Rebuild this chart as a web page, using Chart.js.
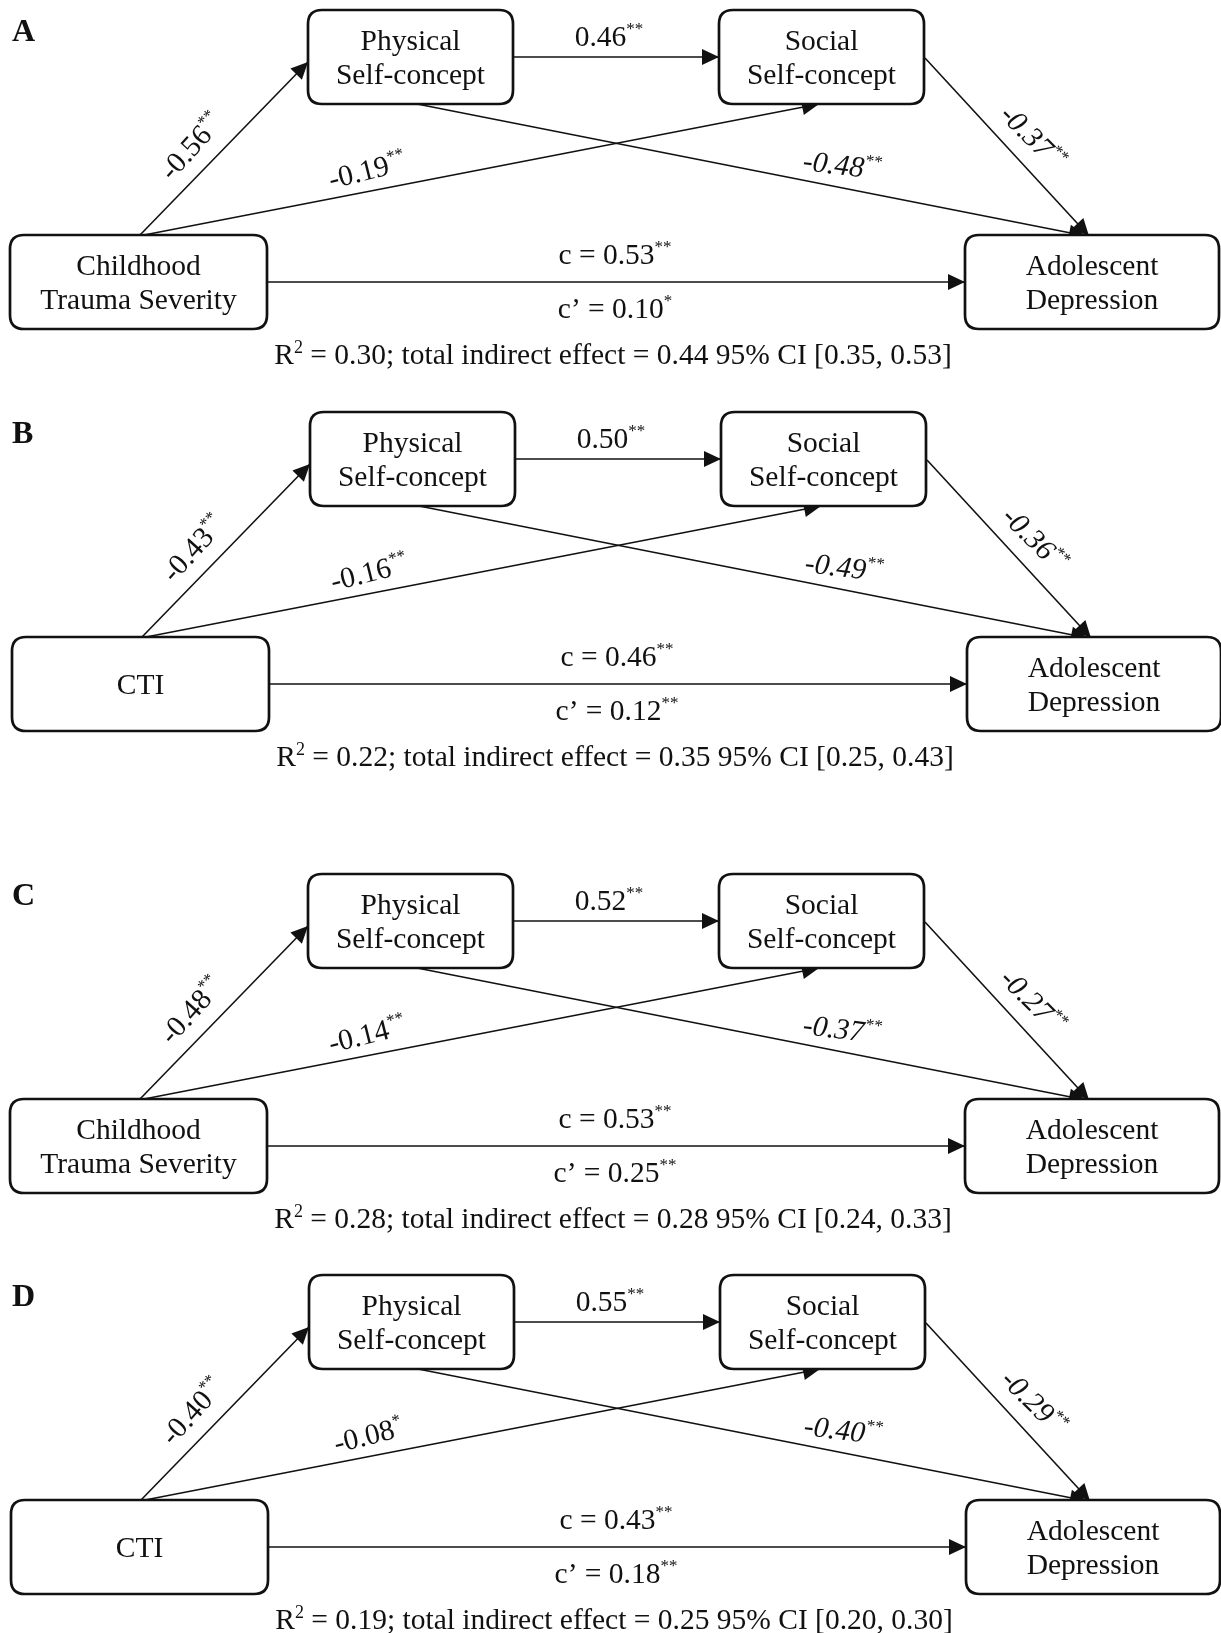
<!DOCTYPE html>
<html>
<head>
<meta charset="utf-8">
<script src="https://cdn.jsdelivr.net/npm/chart.js@4.4.1/dist/chart.umd.min.js"></script>
<style>
  html, body { margin: 0; padding: 0; background: #fff; }
  #wrap { width: 1221px; height: 1633px; }
</style>
</head>
<body>
<div id="wrap"><canvas id="paths" width="1221" height="1633"></canvas></div>
<script>
// one entry per panel, A to D
const panelLabels = ['A', 'B', 'C', 'D'];
const predictorNames = [['Childhood', 'Trauma Severity'], ['CTI'], ['Childhood', 'Trauma Severity'], ['CTI']];
const xToPhysical = [-0.56, -0.43, -0.48, -0.40];
const xToPhysicalSig = ['**', '**', '**', '**'];
const physicalToSocial = [0.46, 0.50, 0.52, 0.55];
const physicalToSocialSig = ['**', '**', '**', '**'];
const xToSocial = [-0.19, -0.16, -0.14, -0.08];
const xToSocialSig = ['**', '**', '**', '*'];
const physicalToDep = [-0.48, -0.49, -0.37, -0.40];
const physicalToDepSig = ['**', '**', '**', '**'];
const socialToDep = [-0.37, -0.36, -0.27, -0.29];
const socialToDepSig = ['**', '**', '**', '**'];
const totalEffect = [0.53, 0.46, 0.53, 0.43];
const totalSig = ['**', '**', '**', '**'];
const directEffect = [0.10, 0.12, 0.25, 0.18];
const directSig = ['*', '**', '**', '**'];
const rSquared = [0.30, 0.22, 0.28, 0.19];
const indirectEffect = [0.44, 0.35, 0.28, 0.25];
const ciLower = [0.35, 0.25, 0.24, 0.20];
const ciUpper = [0.53, 0.43, 0.33, 0.30];

// layout (pixels inside one panel)
const panelTop = [0, 402, 864, 1265];
const panelShift = [0, 2, 0, 1];
const boxes = {
    physical: { x0: 308, x1: 513, y0: 10, y1: 104 },
    social: { x0: 719, x1: 924, y0: 10, y1: 104 },
    predictor: { x0: 10, x1: 267, y0: 235, y1: 329 },
    outcome: { x0: 965, x1: 1219, y0: 235, y1: 329 }
};
const edges = [
    [140, 235, 308, 62],
    [144, 235, 819, 104],
    [513, 57, 719, 57],
    [417, 104, 1086, 236],
    [925, 58, 1089, 236],
    [267, 282, 965, 282]
];

const FONT = '"Liberation Serif", "Times New Roman", serif';
const TXT = 29.5;
const fmt = v => v.toFixed(2);

const datasets = [];
panelLabels.forEach((_, p) => {
    edges.forEach(e => {
        datasets.push({
            data: [
                { x: e[0] + panelShift[p], y: e[1] + panelTop[p] },
                { x: e[2] + panelShift[p], y: e[3] + panelTop[p] }
            ],
            showLine: true,
            borderColor: '#111',
            borderWidth: 1.6,
            pointRadius: 0,
            fill: false
        });
    });
});

function roundBox(ctx, x0, y0, x1, y1, r) {
    ctx.beginPath();
    ctx.moveTo(x0 + r, y0);
    ctx.lineTo(x1 - r, y0);
    ctx.quadraticCurveTo(x1, y0, x1, y0 + r);
    ctx.lineTo(x1, y1 - r);
    ctx.quadraticCurveTo(x1, y1, x1 - r, y1);
    ctx.lineTo(x0 + r, y1);
    ctx.quadraticCurveTo(x0, y1, x0, y1 - r);
    ctx.lineTo(x0, y0 + r);
    ctx.quadraticCurveTo(x0, y0, x0 + r, y0);
    ctx.closePath();
}

// runs: [{t, size, italic, bold, rise}]
function richText(ctx, runs, cx, cy, angle) {
    const fontOf = r => (r.italic ? 'italic ' : '') + (r.bold ? 'bold ' : '') + r.size + 'px ' + FONT;
    let total = 0;
    runs.forEach(r => { ctx.font = fontOf(r); r.w = ctx.measureText(r.t).width; total += r.w; });
    ctx.save();
    ctx.translate(cx, cy);
    ctx.rotate((angle || 0) * Math.PI / 180);
    ctx.fillStyle = '#111';
    ctx.textBaseline = 'alphabetic';
    ctx.textAlign = 'left';
    let x = -total / 2;
    const base = runs[0].size * 0.33;
    runs.forEach(r => {
        ctx.font = fontOf(r);
        ctx.fillText(r.t, x, base + (r.rise || 0));
        x += r.w;
    });
    ctx.restore();
}

const coef = (v, sig, italic) => [
    { t: fmt(v), size: TXT, italic: italic },
    { t: sig, size: 17, italic: italic, rise: -12 }
];

const diagramPlugin = {
    id: 'diagram',
    afterDatasetsDraw(chart) {
        const ctx = chart.ctx;
        const sx = chart.scales.x, sy = chart.scales.y;

        // arrowheads at the end of every path
        chart.data.datasets.forEach((ds, i) => {
            const pts = chart.getDatasetMeta(i).data;
            const a = pts[0], b = pts[1];
            const ang = Math.atan2(b.y - a.y, b.x - a.x);
            const len = 17, half = 8;
            ctx.save();
            ctx.translate(b.x, b.y);
            ctx.rotate(ang);
            ctx.beginPath();
            ctx.moveTo(0, 0);
            ctx.lineTo(-len, -half);
            ctx.lineTo(-len, half);
            ctx.closePath();
            ctx.fillStyle = '#111';
            ctx.fill();
            ctx.restore();
        });

        panelLabels.forEach((lab, p) => {
            const X = v => sx.getPixelForValue(v + panelShift[p]);
            const Y = v => sy.getPixelForValue(v + panelTop[p]);

            // boxes
            const names = {
                physical: ['Physical', 'Self-concept'],
                social: ['Social', 'Self-concept'],
                predictor: predictorNames[p],
                outcome: ['Adolescent', 'Depression']
            };
            Object.keys(boxes).forEach(k => {
                const b = boxes[k];
                ctx.save();
                roundBox(ctx, X(b.x0), Y(b.y0), X(b.x1), Y(b.y1), 14);
                ctx.fillStyle = '#fff';
                ctx.fill();
                ctx.lineWidth = 2.7;
                ctx.strokeStyle = '#111';
                ctx.stroke();
                ctx.restore();
                const cx = X((b.x0 + b.x1) / 2), cy = Y((b.y0 + b.y1) / 2);
                const lines = names[k];
                lines.forEach((t, j) => {
                    const off = lines.length === 1 ? 0 : (j === 0 ? -17 : 17);
                    richText(ctx, [{ t: t, size: TXT }], cx, cy + off, 0);
                });
            });

            // panel letter
            ctx.save();
            ctx.font = 'bold 32px ' + FONT;
            ctx.fillStyle = '#111';
            ctx.textBaseline = 'alphabetic';
            ctx.fillText(lab, sx.getPixelForValue(12), Y(41));
            ctx.restore();

            // coefficients
            richText(ctx, coef(xToPhysical[p], xToPhysicalSig[p]), X(191), Y(146), -48);
            richText(ctx, coef(xToSocial[p], xToSocialSig[p]), X(367), Y(170), -14);
            richText(ctx, coef(physicalToSocial[p], physicalToSocialSig[p]), X(609), Y(36), 0);
            richText(ctx, coef(physicalToDep[p], physicalToDepSig[p], true), X(842), Y(165), 7);
            richText(ctx, coef(socialToDep[p], socialToDepSig[p], true), X(1033), Y(137), 45);
            richText(ctx, [{ t: 'c = ' + fmt(totalEffect[p]), size: TXT }, { t: totalSig[p], size: 17, rise: -12 }], X(615), Y(254), 0);
            richText(ctx, [{ t: 'c\u2019 = ' + fmt(directEffect[p]), size: TXT }, { t: directSig[p], size: 17, rise: -12 }], X(615), Y(308), 0);
            richText(ctx, [
                { t: 'R', size: TXT },
                { t: '2', size: 18, rise: -11 },
                { t: ' = ' + fmt(rSquared[p]) + '; total indirect effect = ' + fmt(indirectEffect[p]) +
                     ' 95% CI [' + fmt(ciLower[p]) + ', ' + fmt(ciUpper[p]) + ']', size: TXT }
            ], X(613), Y(354), 0);
        });
    }
};

new Chart(document.getElementById('paths'), {
    type: 'scatter',
    data: { datasets: datasets },
    options: {
        responsive: false,
        animation: false,
        devicePixelRatio: 1,
        layout: { padding: 0 },
        plugins: { legend: { display: false }, tooltip: { enabled: false } },
        scales: {
            x: { type: 'linear', min: 0, max: 1221, display: false },
            y: { type: 'linear', min: 0, max: 1633, reverse: true, display: false }
        }
    },
    plugins: [diagramPlugin]
});
</script>
</body>
</html>
